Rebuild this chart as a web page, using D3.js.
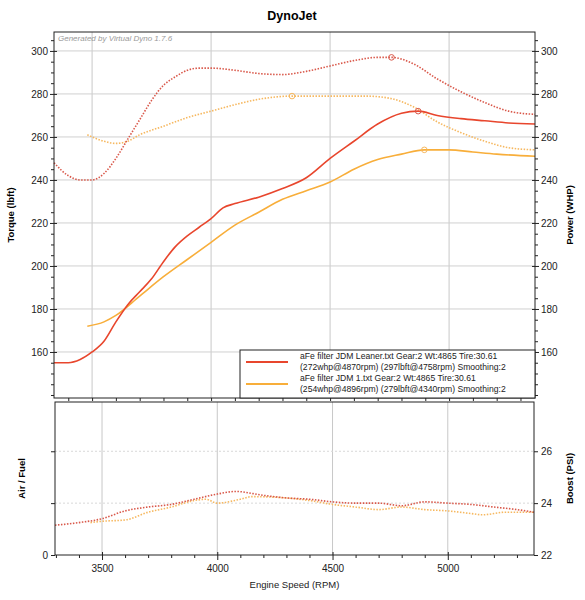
<!DOCTYPE html><html><head><meta charset="utf-8"><script src="https://cdn.jsdelivr.net/npm/d3@7"></script>
<style>body{margin:0;background:#fff}text{font-family:"Liberation Sans",Arial,sans-serif}</style></head><body><svg id="c" width="585" height="600"></svg><script>
const torqueRed=[[3340,248],[3400,242],[3450,240],[3500,240],[3550,243],[3600,250],[3650,259],[3700,268],[3750,277],[3800,284],[3850,288],[3900,291],[3950,292],[4000,292],[4100,291],[4200,289.5],[4300,289],[4400,290.5],[4500,293],[4600,295.5],[4700,297],[4758,297],[4850,294],[4950,287],[5050,281],[5150,276],[5250,272],[5361,270.5]];
const torqueOrange=[[3480,261],[3550,258],[3600,257],[3650,258],[3700,261],[3800,265],[3900,269],[4000,272],[4100,275],[4200,277.5],[4340,279],[4500,279],[4650,279],[4750,278],[4850,274],[4950,267],[5050,262],[5150,258],[5250,255],[5361,254]];
const powerRed=[[3340,155],[3400,155],[3450,156.5],[3500,160],[3550,165],[3600,174],[3650,182],[3700,188],[3750,194],[3800,202],[3850,209],[3900,214],[3950,218],[4000,222],[4050,227],[4100,229],[4200,232],[4300,236],[4400,241],[4500,250],[4600,258],[4700,266],[4800,271],[4870,272],[4950,270],[5050,268.5],[5150,267.5],[5250,266.5],[5361,266]];
const powerOrange=[[3480,172],[3550,174],[3600,177],[3700,186],[3800,195],[3900,203],[4000,211],[4100,219],[4200,225],[4300,231],[4400,235],[4500,239],[4600,245],[4700,249.5],[4800,252],[4896,254],[5000,254],[5100,253],[5200,252],[5361,251]];
const boostRed=[[3296,23.15],[3400,23.25],[3500,23.4],[3600,23.7],[3700,23.85],[3800,23.95],[3900,24.15],[4000,24.35],[4080,24.45],[4200,24.3],[4300,24.2],[4400,24.15],[4500,24.05],[4600,24.0],[4700,24.0],[4800,23.9],[4900,24.05],[5000,24.0],[5100,23.95],[5200,23.85],[5300,23.75],[5374,23.65]];
const boostOrange=[[3450,23.25],[3500,23.3],[3600,23.35],[3700,23.65],[3800,23.85],[3900,24.1],[3950,24.15],[4000,24.0],[4100,24.15],[4150,24.25],[4300,24.2],[4400,24.1],[4500,23.95],[4600,23.85],[4700,23.75],[4800,23.85],[4900,23.75],[5000,23.7],[5100,23.6],[5150,23.55],[5250,23.65],[5374,23.65]];
const peaks=[{s:"torqueRed",p:[4758,297]},{s:"torqueOrange",p:[4340,279]},{s:"powerRed",p:[4870,272]},{s:"powerOrange",p:[4896,254]}];
const legendLabels=[["aFe filter JDM Leaner.txt Gear:2 Wt:4865 Tire:30.61","(272whp@4870rpm) (297lbft@4758rpm) Smoothing:2"],["aFe filter JDM 1.txt Gear:2 Wt:4865 Tire:30.61","(254whp@4896rpm) (279lbft@4340rpm) Smoothing:2"]];
const xTicks=[3500,4000,4500,5000];
const yTicks=[160,180,200,220,240,260,280,300];
const boostTicks=[22,24,26];
const RED="#e8462d",ORANGE="#f8ae3a",RED_D="#d9584a",OR_D="#f6b860";
const svg=d3.select("#c");
svg.append("text").attr("x",292).attr("y",20).attr("text-anchor","middle").attr("font-size",12.5).attr("font-weight","bold").text("DynoJet");
const L=54,R=535,T=32,B=398;
const x=d3.scaleLinear().domain([3340,5361]).range([L,R]);
const y=d3.scaleLinear().domain([138.6,308.8]).range([B,T]);
const g=svg.append("g");
g.selectAll(".vg").data(xTicks).join("line").attr("x1",d=>x(d)).attr("x2",d=>x(d)).attr("y1",T).attr("y2",B).attr("stroke","#c8c8c8");
g.selectAll(".hg").data(yTicks).join("line").attr("x1",L).attr("x2",R).attr("y1",d=>y(d)).attr("y2",d=>y(d)).attr("stroke","#d0d0d0");
svg.append("text").attr("x",58).attr("y",41).attr("font-size",8).attr("font-style","italic").attr("fill","#999").text("Generated by Virtual Dyno 1.7.6");
const line=d3.line().x(d=>x(d[0])).y(d=>y(d[1])).curve(d3.curveMonotoneX);
g.append("path").attr("d",line(torqueOrange)).attr("fill","none").attr("stroke",OR_D).attr("stroke-width",1.6).attr("stroke-dasharray","1.5,1.5");
g.append("path").attr("d",line(torqueRed)).attr("fill","none").attr("stroke",RED_D).attr("stroke-width",1.6).attr("stroke-dasharray","1.5,1.5");
g.append("path").attr("d",line(powerOrange)).attr("fill","none").attr("stroke",ORANGE).attr("stroke-width",1.6);
g.append("path").attr("d",line(powerRed)).attr("fill","none").attr("stroke",RED).attr("stroke-width",1.6);
g.selectAll(".pk").data(peaks).join("circle").attr("cx",d=>x(d.p[0])).attr("cy",d=>y(d.p[1])).attr("r",2.8).attr("fill","none").attr("stroke",d=>d.s.includes("Red")?RED_D:OR_D).attr("stroke-width",1);
svg.append("rect").attr("x",L).attr("y",T).attr("width",R-L).attr("height",B-T).attr("fill","none").attr("stroke","#222");
const yl=svg.append("g").attr("transform",`translate(${L},0)`).call(d3.axisLeft(y).tickValues(d3.range(140,310,5)).tickSize(3).tickFormat(d=>yTicks.includes(d)?d:""));
const yr=svg.append("g").attr("transform",`translate(${R},0)`).call(d3.axisRight(y).tickValues(d3.range(140,310,5)).tickSize(3).tickFormat(d=>yTicks.includes(d)?d:""));
[yl,yr].forEach(a=>{a.select(".domain").remove();a.selectAll("text").attr("font-size",10).attr("fill","#222");a.selectAll("line").attr("stroke","#222");});
yl.selectAll(".tick").filter(d=>yTicks.includes(d)).select("line").attr("x1",3).attr("x2",-4);
yr.selectAll(".tick").filter(d=>yTicks.includes(d)).select("line").attr("x1",-3).attr("x2",4);
const xt=svg.append("g").attr("transform",`translate(0,${B})`).call(d3.axisBottom(x).tickValues(d3.range(3400,5400,100)).tickSize(3).tickFormat(""));
xt.select(".domain").remove();xt.selectAll("line").attr("stroke","#222");
svg.append("text").attr("transform",`translate(14,${(T+B)/2}) rotate(-90)`).attr("text-anchor","middle").attr("font-size",9.5).attr("font-weight","bold").text("Torque (lbft)");
svg.append("text").attr("transform",`translate(573,${(T+B)/2}) rotate(-90)`).attr("text-anchor","middle").attr("font-size",9.5).attr("font-weight","bold").text("Power (WHP)");
const lg=svg.append("g");
lg.append("rect").attr("x",240).attr("y",350).attr("width",R-240).attr("height",B-350).attr("fill","#fff").attr("stroke","#222");
legendLabels.forEach((t,i)=>{const yy=356+i*22;
 lg.append("line").attr("x1",246).attr("x2",288).attr("y1",yy+6).attr("y2",yy+6).attr("stroke",i?ORANGE:RED).attr("stroke-width",2);
 t.forEach((s,j)=>lg.append("text").attr("x",300).attr("y",yy+3+j*10.5).attr("font-size",8.6).attr("fill","#222").text(s));});
const T2=402,B2=555,L2=55,R2=534;
const x2=d3.scaleLinear().domain([3296,5374]).range([L2,R2]);
const y2=d3.scaleLinear().domain([22,27.9]).range([B2,T2]);
svg.selectAll(".vg2").data(xTicks).join("line").attr("x1",d=>x2(d)).attr("x2",d=>x2(d)).attr("y1",T2).attr("y2",B2).attr("stroke","#c8c8c8");
svg.selectAll(".hg2").data([24,26]).join("line").attr("x1",L2).attr("x2",R2).attr("y1",d=>y2(d)).attr("y2",d=>y2(d)).attr("stroke","#d8d8d8").attr("stroke-dasharray","2,2");
const line2=d3.line().x(d=>x2(d[0])).y(d=>y2(d[1])).curve(d3.curveMonotoneX);
svg.append("path").attr("d",line2(boostOrange)).attr("fill","none").attr("stroke",OR_D).attr("stroke-width",1.6).attr("stroke-dasharray","1.5,1.5");
svg.append("path").attr("d",line2(boostRed)).attr("fill","none").attr("stroke",RED_D).attr("stroke-width",1.6).attr("stroke-dasharray","1.5,1.5");
svg.append("rect").attr("x",L2).attr("y",T2).attr("width",R2-L2).attr("height",B2-T2).attr("fill","none").attr("stroke","#222");
const br=svg.append("g").attr("transform",`translate(${R2},0)`).call(d3.axisRight(y2).tickValues(boostTicks).tickSize(4).tickFormat(d3.format("d")));
const bl=svg.append("g").attr("transform",`translate(${L2},0)`).call(d3.axisLeft(y2).tickValues(boostTicks).tickSize(4).tickFormat(d=>d===22?"0":""));
const bx=svg.append("g").attr("transform",`translate(0,${B2})`).call(d3.axisBottom(x2).tickValues(d3.range(3300,5400,100)).tickSize(3).tickFormat(d=>xTicks.includes(d)?d:""));
bx.selectAll(".tick").filter(d=>xTicks.includes(d)).select("line").attr("y1",-3).attr("y2",5);
[br,bl,bx].forEach(a=>{a.select(".domain").remove();a.selectAll("text").attr("font-size",10).attr("fill","#222");a.selectAll("line").attr("stroke","#222");});
bx.selectAll("text").attr("dy","1.1em");
svg.append("text").attr("x",(L2+R2)/2).attr("y",588).attr("text-anchor","middle").attr("font-size",9.5).attr("fill","#222").text("Engine Speed (RPM)");
svg.append("text").attr("transform",`translate(25,${(T2+B2)/2}) rotate(-90)`).attr("text-anchor","middle").attr("font-size",9.5).attr("font-weight","bold").text("Air / Fuel");
svg.append("text").attr("transform",`translate(573,${(T2+B2)/2}) rotate(-90)`).attr("text-anchor","middle").attr("font-size",9.5).attr("font-weight","bold").text("Boost (PSI)");
</script></body></html>
